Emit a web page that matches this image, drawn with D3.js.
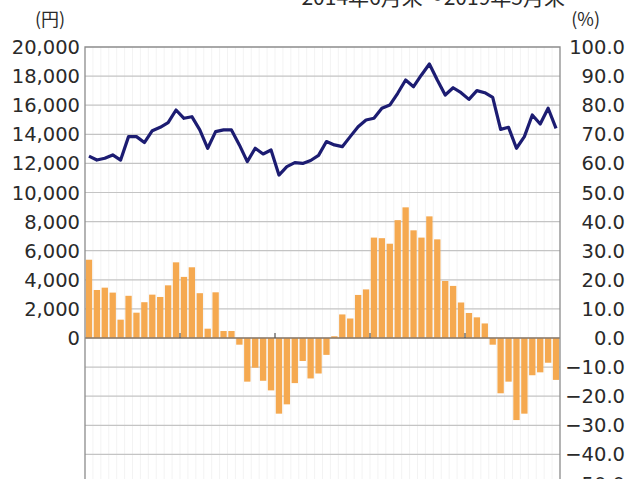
<!DOCTYPE html>
<html>
<head>
<meta charset="utf-8">
<script src="https://cdn.jsdelivr.net/npm/d3@7"></script>
<style>
  body { margin: 0; background: #fff; }
  text { font-family: "DejaVu Sans", sans-serif; fill: #2a2a2a; }
</style>
</head>
<body>
<div id="page-container"></div>
<script>
  // months 2014/6 .. 2019/5
  var months = d3.timeMonth.range(new Date(2014, 5, 1), new Date(2019, 5, 1));

  // 株価 (円), left axis
  var price = [12500, 12230, 12350, 12580, 12230, 13840, 13840, 13430, 14250, 14480,
               14800, 15670, 15100, 15210, 14300, 13040, 14180, 14300, 14300, 13270,
               12120, 13040, 12650, 12920, 11200, 11780, 12050, 12000, 12200, 12550,
               13500, 13270, 13150, 13840, 14520, 14980, 15100, 15790, 16010, 16820,
               17730, 17270, 18080, 18830, 17730, 16700, 17200, 16860, 16400, 17000,
               16860, 16540, 14340, 14480, 13040, 13840, 15330, 14710, 15790, 14410];

  // 前年同月比 (%), right axis
  var change = [26.9, 16.5, 17.3, 15.6, 6.3, 14.5, 8.7, 12.3, 14.9, 14.1,
                18.1, 26.0, 21.0, 24.3, 15.4, 3.2, 15.7, 2.4, 2.4, -2.3,
                -15.0, -10.2, -14.7, -18.0, -26.0, -22.8, -15.5, -7.9, -13.9, -12.2,
                -5.8, 0.6, 8.1, 6.7, 14.8, 16.7, 34.5, 34.3, 32.4, 40.5,
                44.9, 37.0, 34.5, 41.8, 33.9, 19.6, 17.9, 12.2, 8.6, 7.1,
                5.0, -2.3, -19.0, -15.0, -28.2, -26.0, -12.8, -11.8, -8.5, -14.4];

  var leftTicks = [0, 2000, 4000, 6000, 8000, 10000, 12000, 14000, 16000, 18000, 20000];
  var rightTicks = [-60, -50, -40, -30, -20, -10, 0, 10, 20, 30, 40, 50, 60, 70, 80, 90, 100];
  var title = "2014年6月末～2019年5月末";

  var W = 628, H = 479;
  var plotL = 85, plotR = 560, plotT = 47, plotB = 512.6;

  var svg = d3.select("#page-container").append("svg")
      .attr("width", W)
      .attr("height", H);

  var x = d3.scaleBand()
      .domain(d3.range(months.length))
      .range([plotL, plotR])
      .paddingInner(0.2)
      .paddingOuter(0.1);

  var yL = d3.scaleLinear().domain([-12000, 20000]).range([plotB, plotT]);
  var yR = d3.scaleLinear().domain([-60, 100]).range([plotB, plotT]);

  // faint vertical minor grid
  svg.append("g").selectAll("line")
      .data(d3.range(1, months.length))
      .enter().append("line")
      .attr("x1", d => plotL + d * x.step())
      .attr("x2", d => plotL + d * x.step())
      .attr("y1", plotT).attr("y2", H)
      .attr("stroke", "#f3f3f3");

  // horizontal grid
  svg.append("g").selectAll("line")
      .data(rightTicks.filter(d => d < 100))
      .enter().append("line")
      .attr("x1", plotL).attr("x2", plotR)
      .attr("y1", d => yR(d)).attr("y2", d => yR(d))
      .attr("stroke", "#c4c4c4")
      .attr("stroke-width", 1.2);

  // bars
  svg.append("g").selectAll("rect")
      .data(change)
      .enter().append("rect")
      .attr("x", (d, i) => x(i))
      .attr("width", x.bandwidth())
      .attr("y", d => yR(Math.max(0, d)))
      .attr("height", d => Math.abs(yR(d) - yR(0)))
      .attr("fill", "#f5a950");

  // zero line
  svg.append("line")
      .attr("x1", plotL).attr("x2", plotR)
      .attr("y1", yR(0)).attr("y2", yR(0))
      .attr("stroke", "#8a7a6a")
      .attr("stroke-width", 1.4);

  // year ticks on zero line
  svg.append("g").selectAll("line")
      .data([12, 24, 36, 48])
      .enter().append("line")
      .attr("x1", d => plotL + d * x.step())
      .attr("x2", d => plotL + d * x.step())
      .attr("y1", yR(0) - 5).attr("y2", yR(0))
      .attr("stroke", "#555")
      .attr("stroke-width", 1.2);

  // price line
  var line = d3.line()
      .x((d, i) => x(i) + x.bandwidth() / 2)
      .y(d => yL(d));

  svg.append("path")
      .datum(price)
      .attr("d", line)
      .attr("fill", "none")
      .attr("stroke", "#1c1c72")
      .attr("stroke-width", 3.2)
      .attr("stroke-linejoin", "round");

  // frame
  svg.append("path")
      .attr("d", "M" + plotL + "," + H + "V" + plotT + "H" + plotR + "V" + H)
      .attr("fill", "none")
      .attr("stroke", "#8c8c8c")
      .attr("stroke-width", 1.3);

  // left axis labels
  svg.append("g").selectAll("text")
      .data(leftTicks)
      .enter().append("text")
      .attr("x", 80)
      .attr("y", d => yL(d))
      .attr("dy", "0.36em")
      .attr("text-anchor", "end")
      .style("font-size", "19.5px")
      .text(d => d3.format(",")(d));

  // right axis labels
  svg.append("g").selectAll("text")
      .data(rightTicks.filter(d => d >= -50))
      .enter().append("text")
      .attr("x", 625)
      .attr("y", d => yR(d))
      .attr("dy", "0.36em")
      .attr("text-anchor", "end")
      .style("font-size", "19.5px")
      .text(d => d3.format(".1f")(d));

  // units
  svg.append("text")
      .attr("x", 50).attr("y", 26)
      .attr("text-anchor", "middle")
      .style("font-family", "'Noto Sans CJK JP', sans-serif")
      .style("font-size", "18px")
      .text("(円)");

  svg.append("text")
      .attr("x", 600).attr("y", 26)
      .attr("text-anchor", "end")
      .style("font-family", "'Noto Sans CJK JP', sans-serif")
      .style("font-size", "18px")
      .text("(%)");

  // title (clipped at the top)
  svg.append("text")
      .attr("x", 565).attr("y", 5)
      .attr("text-anchor", "end")
      .style("font-family", "'Noto Sans CJK JP', sans-serif")
      .style("font-size", "21px")
      .text(title);
</script>
</body>
</html>
